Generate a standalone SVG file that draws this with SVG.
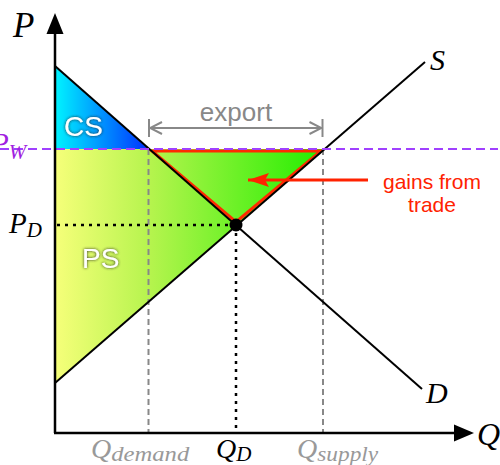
<svg xmlns="http://www.w3.org/2000/svg" width="500" height="465" viewBox="0 0 500 465">
<style>
.ax{stroke:#000;stroke-width:2.5;fill:none}
.crv{stroke:#000;stroke-width:2;fill:none}
.gd{stroke:#888;stroke-width:2;stroke-dasharray:6 4;fill:none}
.bd{stroke:#000;stroke-width:2.5;stroke-dasharray:3 5;fill:none}
.math{font-family:"Liberation Serif","DejaVu Serif",serif;font-style:italic}
.sans{font-family:"Liberation Sans",Arial,sans-serif}
.lbl{fill:#fff;font-size:28px}
</style>
<defs>
<linearGradient id="cs" x1="55" y1="0" x2="149" y2="0" gradientUnits="userSpaceOnUse">
<stop offset="0" stop-color="#00f4ff"/><stop offset="1" stop-color="#0030ff"/>
</linearGradient>
<linearGradient id="ps" x1="55" y1="0" x2="324" y2="0" gradientUnits="userSpaceOnUse">
<stop offset="0" stop-color="#f6ff7a"/><stop offset="0.35" stop-color="#b6f44e"/><stop offset="1" stop-color="#22ee00"/>
</linearGradient>
<filter id="sh" x="-20%" y="-20%" width="140%" height="140%">
<feGaussianBlur in="SourceAlpha" stdDeviation="1.6" result="b"/>
<feFlood flood-color="#222" flood-opacity="0.95"/>
<feComposite in2="b" operator="in"/>
<feMerge><feMergeNode/><feMergeNode in="SourceGraphic"/></feMerge>
</filter>
<marker id="oa" viewBox="-13 -7 14 14" markerWidth="14" markerHeight="14" refX="0" refY="0" orient="auto-start-reverse" markerUnits="userSpaceOnUse">
<path d="M-12,-6 L0,0 L-12,6" fill="none" stroke="#888" stroke-width="2"/>
</marker>
<marker id="ra" viewBox="-22 -8 22 16" markerWidth="22" markerHeight="16" refX="0" refY="0" orient="auto" markerUnits="userSpaceOnUse">
<path d="M0,0 L-21,-7 L-17,0 L-21,7 Z" fill="#ff2200"/>
</marker>
</defs>

<g id="cs-area">
<polygon points="55,66 148.5,149 55,149" fill="url(#cs)"/>
<text class="sans lbl" x="64" y="136" filter="url(#sh)">CS</text>
</g>
<g id="ps-area">
<polygon points="55,149 324.5,149 55,383" fill="url(#ps)"/>
<text class="sans lbl" x="82" y="268" filter="url(#sh)">PS</text>
</g>
<g id="gains-triangle">
<polygon points="152,151 321,151 236,222" fill="none" stroke="#ff2a00" stroke-width="3" stroke-linejoin="miter"/>
</g>

<g id="connectors">
<line class="gd" x1="148.5" y1="149" x2="148.5" y2="433"/>
<line class="gd" x1="323" y1="149" x2="323" y2="433"/>
<line class="bd" x1="57" y1="225" x2="236" y2="225"/>
<line class="bd" x1="236" y1="225" x2="236" y2="433"/>
<line id="demand" class="crv" x1="55" y1="66" x2="422" y2="389"/>
<line id="supply" class="crv" x1="55" y1="383" x2="425" y2="62"/>
<line id="pw" x1="0" y1="149" x2="498" y2="149" stroke="#a040ff" stroke-width="2" stroke-dasharray="9 5"/>
<line x1="150" y1="128" x2="321.5" y2="128" stroke="#888" stroke-width="2" marker-start="url(#oa)" marker-end="url(#oa)"/>
<line x1="149" y1="119" x2="149" y2="137" stroke="#888" stroke-width="2"/>
<line x1="322.5" y1="119" x2="322.5" y2="137" stroke="#888" stroke-width="2"/>
<line x1="368" y1="180" x2="248" y2="180" stroke="#ff2200" stroke-width="3" marker-end="url(#ra)"/>
<line class="ax" x1="55" y1="30" x2="55" y2="433"/>
<line class="ax" x1="54" y1="433" x2="458" y2="433"/>
<polygon points="55,13 46.5,34 63.5,34"/>
<polygon points="474,433 454,424.5 454,441.5"/>
</g>

<g id="equilibrium"><circle cx="236" cy="225" r="6.5" fill="#000"/></g>

<g id="labels">
<text class="math" x="13" y="37" font-size="35">P</text>
<text class="math" x="430" y="70" font-size="30">S</text>
<text class="math" x="426" y="403" font-size="30">D</text>
<text class="math" x="477" y="445" font-size="32">Q</text>
<text class="math" x="9" y="233" font-size="29">P<tspan font-size="21" dy="4">D</tspan></text>
<text class="math" x="-9" y="153" font-size="29" fill="#a020e0">P<tspan font-size="21" dy="6">W</tspan></text>
<text class="math" x="91" y="458" font-size="28" fill="#999">Q<tspan font-size="21" dy="3" textLength="78" lengthAdjust="spacingAndGlyphs">demand</tspan></text>
<text class="math" x="216" y="458" font-size="28">Q<tspan font-size="21" dy="3">D</tspan></text>
<text class="math" x="297" y="458" font-size="28" fill="#999">Q<tspan font-size="21" dy="3" textLength="61" lengthAdjust="spacingAndGlyphs">supply</tspan></text>
<text class="sans" x="236" y="121" font-size="26" fill="#888" text-anchor="middle">export</text>
<text class="sans" x="432" y="189" font-size="21" fill="#ff2200" text-anchor="middle">gains from</text>
<text class="sans" x="432" y="212" font-size="21" fill="#ff2200" text-anchor="middle">trade</text>
</g>
</svg>
